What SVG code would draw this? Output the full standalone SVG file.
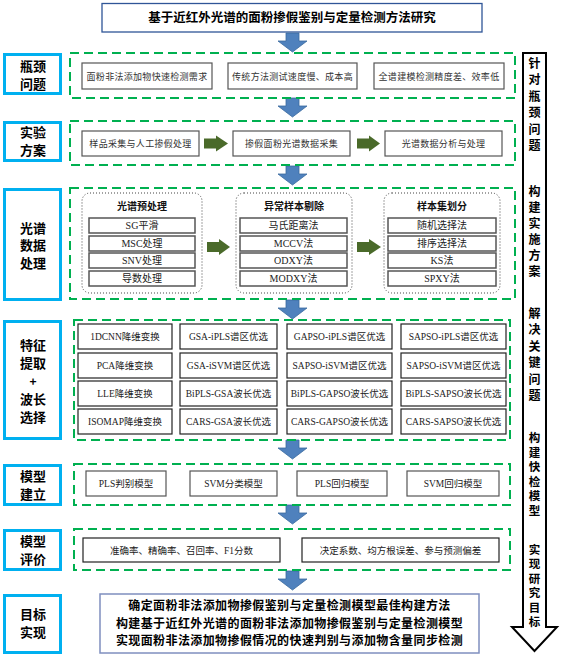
<svg xmlns="http://www.w3.org/2000/svg" width="568" height="665" viewBox="0 0 568 665">
<defs>
<style>
.lbl{fill:#fff;stroke:#00B0F0;stroke-width:3}
.lt{font-family:"Noto Sans CJK SC",sans-serif;font-size:13px;font-weight:bold;fill:#000;text-anchor:middle}
.dash{fill:none;stroke:#00B050;stroke-width:2;stroke-dasharray:9,5}
.box{fill:#fff;stroke:#555;stroke-width:1.2}
.bt{font-family:"Noto Sans CJK SC",sans-serif;font-size:9px;fill:#333;text-anchor:middle;letter-spacing:0.3px}
.grp{fill:none;stroke:#444;stroke-width:1;stroke-dasharray:1,2}
.gt{font-family:"Noto Sans CJK SC",sans-serif;font-size:10px;font-weight:bold;fill:#111;text-anchor:middle}
.ib{fill:#fff;stroke:#555;stroke-width:1.5}
.it{font-family:"Liberation Serif","Noto Sans CJK SC",serif;font-size:10px;fill:#222;text-anchor:middle}
.gb{fill:#fff;stroke:#222;stroke-width:1.2}
.gtx{font-family:"Liberation Serif","Noto Sans CJK SC",serif;font-size:9.5px;fill:#222;text-anchor:middle}
.ba{fill:#4F81BD;stroke:#3A6A9E;stroke-width:0.8}
.ga{fill:#4A6A2A}
.big{font-family:"Noto Sans CJK SC",sans-serif;font-size:12.5px;font-weight:bold;fill:#000;text-anchor:middle}
.gl{font-family:"Noto Sans CJK SC",sans-serif;font-size:12px;font-weight:bold;fill:#000;text-anchor:middle;letter-spacing:0.4px}
.rt{font-family:"Noto Sans CJK SC",sans-serif;font-size:12px;font-weight:bold;fill:#000;text-anchor:middle}
.rs{font-family:"Noto Sans CJK SC",sans-serif;font-size:11.5px;font-weight:bold;fill:#000;text-anchor:middle}
</style>
</defs>

<g id="title">
<rect x="102" y="3.5" width="380" height="28.5" fill="#fff" stroke="#2F5597" stroke-width="1.3"/>
<text class="big" x="292" y="22">基于近红外光谱的面粉掺假鉴别与定量检测方法研究</text>
</g>

<g id="connectors">
<polygon class="ba" points="286,33 299,33 299,41 307,41 292.5,52 278,41 286,41"/>
<polygon class="ba" points="286,98 299,98 299,106 307,106 292.5,117 278,106 286,106"/>
<polygon class="ba" points="286,166 299,166 299,174 307,174 292.5,185 278,174 286,174"/>
<polygon class="ba" points="286,300 299,300 299,308 307,308 292.5,319 278,308 286,308"/>
<polygon class="ba" points="286,440 299,440 299,448 307,448 292.5,459 278,448 286,448"/>
<polygon class="ba" points="286,505 299,505 299,513 307,513 292.5,524 278,513 286,513"/>
<polygon class="ba" points="286,571 299,571 299,579 307,579 292.5,590 278,579 286,579"/>
<polygon class="ga" points="204,138.5 216,138.5 216,135.5 228,143.5 216,151.5 216,148.5 204,148.5"/>
<polygon class="ga" points="357,138.5 369,138.5 369,135.5 380,143.5 369,151.5 369,148.5 357,148.5"/>
<polygon class="ga" points="207,242 219,242 219,239 230,247 219,255 219,252 207,252"/>
<polygon class="ga" points="357,242 369,242 369,239 381,247 369,255 369,252 357,252"/>
<polygon points="523,53 546,53 546,627 557,627 534.5,651 512,627 523,627" fill="#fff" stroke="#000" stroke-width="2"/>
</g>

<g id="side-text">
<text class="rt" x="534.5" y="67.5">针</text>
<text class="rt" x="534.5" y="84">对</text>
<text class="rt" x="534.5" y="100.5">瓶</text>
<text class="rt" x="534.5" y="117">颈</text>
<text class="rt" x="534.5" y="133.5">问</text>
<text class="rt" x="534.5" y="150">题</text>
<text class="rt" x="534.5" y="196">构</text>
<text class="rt" x="534.5" y="212">建</text>
<text class="rt" x="534.5" y="228">实</text>
<text class="rt" x="534.5" y="244">施</text>
<text class="rt" x="534.5" y="260">方</text>
<text class="rt" x="534.5" y="276">案</text>
<text class="rt" x="534.5" y="317.5">解</text>
<text class="rt" x="534.5" y="334">决</text>
<text class="rt" x="534.5" y="350.5">关</text>
<text class="rt" x="534.5" y="367">键</text>
<text class="rt" x="534.5" y="383.5">问</text>
<text class="rt" x="534.5" y="400">题</text>
<text class="rs" x="534.5" y="442">构</text>
<text class="rs" x="534.5" y="456.5">建</text>
<text class="rs" x="534.5" y="471">快</text>
<text class="rs" x="534.5" y="485.5">检</text>
<text class="rs" x="534.5" y="500">模</text>
<text class="rs" x="534.5" y="514.5">型</text>
<text class="rs" x="534.5" y="553.5">实</text>
<text class="rs" x="534.5" y="568">现</text>
<text class="rs" x="534.5" y="582.5">研</text>
<text class="rs" x="534.5" y="597">究</text>
<text class="rs" x="534.5" y="611.5">目</text>
<text class="rs" x="534.5" y="626">标</text>
</g>

<g id="row1">
<rect class="lbl" x="4.5" y="54.5" width="56" height="39"/>
<text class="lt" x="33" y="70.5">瓶颈</text>
<text class="lt" x="33" y="88.5">问题</text>
<rect class="dash" x="70" y="53" width="445" height="45"/>
<rect class="box" x="82" y="63" width="130" height="26"/>
<text class="bt" x="147" y="79.5">面粉非法添加物快速检测需求</text>
<rect class="box" x="228" y="63" width="129" height="26"/>
<text class="bt" x="292.5" y="79.5">传统方法测试速度慢、成本高</text>
<rect class="box" x="374" y="63" width="130" height="26"/>
<text class="bt" x="439" y="79.5">全谱建模检测精度差、效率低</text>
</g>

<g id="row2">
<rect class="lbl" x="4.5" y="122.5" width="56" height="38"/>
<text class="lt" x="33" y="136.5">实验</text>
<text class="lt" x="33" y="154.5">方案</text>
<rect class="dash" x="70" y="121" width="445" height="44"/>
<rect class="box" x="82" y="131" width="117" height="25"/>
<text class="bt" x="140.5" y="147">样品采集与人工掺假处理</text>
<rect class="box" x="233" y="131" width="117" height="25"/>
<text class="bt" x="291.5" y="147">掺假面粉光谱数据采集</text>
<rect class="box" x="385" y="131" width="117" height="25"/>
<text class="bt" x="443.5" y="147">光谱数据分析与处理</text>
</g>

<g id="row3">
<rect class="lbl" x="4.5" y="189.5" width="56" height="110"/>
<text class="lt" x="33" y="232.5">光谱</text>
<text class="lt" x="33" y="250">数据</text>
<text class="lt" x="33" y="267.5">处理</text>
<rect class="dash" x="70" y="188" width="445" height="111"/>
<rect class="grp" x="82" y="193" width="120" height="100" rx="8"/>
<text class="gt" x="142" y="210">光谱预处理</text>
<rect class="ib" x="89" y="218" width="106" height="15"/><text class="it" x="142" y="229">SG平滑</text>
<rect class="ib" x="89" y="236" width="106" height="15"/><text class="it" x="142" y="247">MSC处理</text>
<rect class="ib" x="89" y="253" width="106" height="15"/><text class="it" x="142" y="264">SNV处理</text>
<rect class="ib" x="89" y="271" width="106" height="15"/><text class="it" x="142" y="282">导数处理</text>
<rect class="grp" x="236" y="193" width="116" height="100" rx="8"/>
<text class="gt" x="294" y="210">异常样本剔除</text>
<rect class="ib" x="240" y="218" width="107" height="15"/><text class="it" x="293.5" y="229">马氏距离法</text>
<rect class="ib" x="240" y="236" width="107" height="15"/><text class="it" x="293.5" y="247">MCCV法</text>
<rect class="ib" x="240" y="253" width="107" height="15"/><text class="it" x="293.5" y="264">ODXY法</text>
<rect class="ib" x="240" y="271" width="107" height="15"/><text class="it" x="293.5" y="282">MODXY法</text>
<rect class="grp" x="384" y="193" width="116" height="100" rx="8"/>
<text class="gt" x="442" y="210">样本集划分</text>
<rect class="ib" x="388" y="218" width="108" height="15"/><text class="it" x="442" y="229">随机选择法</text>
<rect class="ib" x="388" y="236" width="108" height="15"/><text class="it" x="442" y="247">排序选择法</text>
<rect class="ib" x="388" y="253" width="108" height="15"/><text class="it" x="442" y="264">KS法</text>
<rect class="ib" x="388" y="271" width="108" height="15"/><text class="it" x="442" y="282">SPXY法</text>
</g>

<g id="row4">
<rect class="lbl" x="4.5" y="321.5" width="56" height="117"/>
<text class="lt" x="33" y="350">特征</text>
<text class="lt" x="33" y="368">提取</text>
<text class="lt" x="33" y="385.5" style="font-size:12px">+</text>
<text class="lt" x="33" y="404">波长</text>
<text class="lt" x="33" y="422">选择</text>
<rect class="dash" x="74" y="320" width="436" height="120"/>
<rect class="gb" x="78" y="324" width="94" height="25"/><text class="gtx" x="125" y="340">1DCNN降维变换</text>
<rect class="gb" x="180" y="324" width="97" height="25"/><text class="gtx" x="228.5" y="340">GSA-iPLS谱区优选</text>
<rect class="gb" x="287" y="324" width="105" height="25"/><text class="gtx" x="339.5" y="340">GAPSO-iPLS谱区优选</text>
<rect class="gb" x="401" y="324" width="105" height="25"/><text class="gtx" x="453.5" y="340">SAPSO-iPLS谱区优选</text>
<rect class="gb" x="78" y="353" width="94" height="25"/><text class="gtx" x="125" y="369">PCA降维变换</text>
<rect class="gb" x="180" y="353" width="97" height="25"/><text class="gtx" x="228.5" y="369">GSA-iSVM谱区优选</text>
<rect class="gb" x="287" y="353" width="105" height="25"/><text class="gtx" x="339.5" y="369">SAPSO-iSVM谱区优选</text>
<rect class="gb" x="401" y="353" width="105" height="25"/><text class="gtx" x="453.5" y="369">SAPSO-iSVM谱区优选</text>
<rect class="gb" x="78" y="381" width="94" height="25"/><text class="gtx" x="125" y="397">LLE降维变换</text>
<rect class="gb" x="180" y="381" width="97" height="25"/><text class="gtx" x="228.5" y="397">BiPLS-GSA波长优选</text>
<rect class="gb" x="287" y="381" width="105" height="25"/><text class="gtx" x="339.5" y="397">BiPLS-GAPSO波长优选</text>
<rect class="gb" x="401" y="381" width="105" height="25"/><text class="gtx" x="453.5" y="397">BiPLS-SAPSO波长优选</text>
<rect class="gb" x="78" y="409" width="94" height="25"/><text class="gtx" x="125" y="425">ISOMAP降维变换</text>
<rect class="gb" x="180" y="409" width="97" height="25"/><text class="gtx" x="228.5" y="425">CARS-GSA波长优选</text>
<rect class="gb" x="287" y="409" width="105" height="25"/><text class="gtx" x="339.5" y="425">CARS-GAPSO波长优选</text>
<rect class="gb" x="401" y="409" width="105" height="25"/><text class="gtx" x="453.5" y="425">CARS-SAPSO波长优选</text>
</g>

<g id="row5">
<rect class="lbl" x="4.5" y="465.5" width="56" height="39"/>
<text class="lt" x="33" y="480.5">模型</text>
<text class="lt" x="33" y="498.5">建立</text>
<rect class="dash" x="74" y="464" width="436" height="41"/>
<rect class="box" x="86" y="471" width="80" height="25"/><text class="gtx" x="126" y="487">PLS判别模型</text>
<rect class="box" x="190" y="471" width="87" height="25"/><text class="gtx" x="233.5" y="487">SVM分类模型</text>
<rect class="box" x="297" y="471" width="90" height="25"/><text class="gtx" x="342" y="487">PLS回归模型</text>
<rect class="box" x="407" y="471" width="92" height="25"/><text class="gtx" x="453" y="487">SVM回归模型</text>
</g>

<g id="row6">
<rect class="lbl" x="4.5" y="530.5" width="56" height="39"/>
<text class="lt" x="33" y="545.5">模型</text>
<text class="lt" x="33" y="563.5">评价</text>
<rect class="dash" x="74" y="529" width="436" height="41"/>
<rect class="gb" x="83" y="538" width="197" height="24"/><text class="gtx" x="181.5" y="553.5">准确率、精确率、召回率、F1分数</text>
<rect class="gb" x="302" y="538" width="197" height="24"/><text class="gtx" x="400.5" y="553.5">决定系数、均方根误差、参与预测偏差</text>
</g>

<g id="row7">
<rect class="lbl" x="4.5" y="595.5" width="56" height="57"/>
<text class="lt" x="33" y="618.5">目标</text>
<text class="lt" x="33" y="636.5">实现</text>
<rect x="100" y="594" width="379" height="59" fill="#fff" stroke="#7F8FBF" stroke-width="1.5"/>
<text class="gl" x="289.5" y="610">确定面粉非法添加物掺假鉴别与定量检测模型最佳构建方法</text>
<text class="gl" x="289.5" y="627.5">构建基于近红外光谱的面粉非法添加物掺假鉴别与定量检测模型</text>
<text class="gl" x="289.5" y="645">实现面粉非法添加物掺假情况的快速判别与添加物含量同步检测</text>
</g>
</svg>
